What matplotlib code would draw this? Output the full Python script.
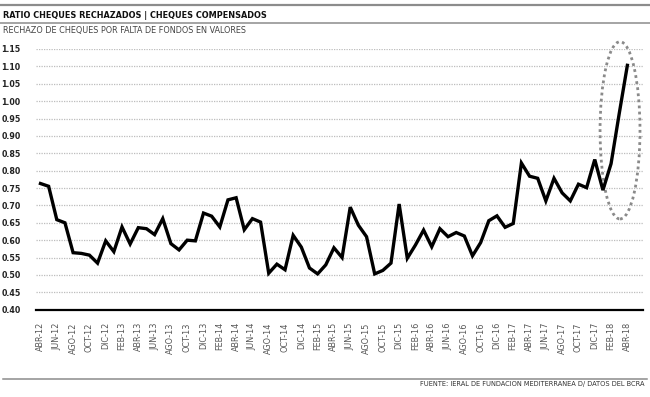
import matplotlib
matplotlib.use("Agg")
import matplotlib.pyplot as plt
from matplotlib import font_manager
from matplotlib.lines import Line2D
from matplotlib.patches import Ellipse

# look for a narrow sans face with a bold cut, the original uses a condensed one
narrow = {}
for f in font_manager.fontManager.ttflist:
    if ('Narrow' in f.name or 'Condensed' in f.name or
            f.stretch in ('condensed', 'semi-condensed', 'extra-condensed', 'ultra-condensed')):
        w = f.weight if isinstance(f.weight, int) else font_manager.weight_dict.get(f.weight, 400)
        narrow.setdefault((f.name, f.stretch), set()).add(w)

narrow_family, narrow_stretch = 'Liberation Sans', 'normal'
best = -1
for (name, stretch), weights in narrow.items():
    score = (2 if max(weights) >= 700 else 0) + (1 if 400 in weights else 0)
    if score > best:
        best = score
        narrow_family, narrow_stretch = name, stretch

plt.rcParams['font.family'] = [narrow_family, 'Liberation Sans', 'DejaVu Sans']
plt.rcParams['font.stretch'] = narrow_stretch

# Monthly ratio, ABR-12 .. ABR-18
months = ["ENE", "FEB", "MAR", "ABR", "MAY", "JUN",
          "JUL", "AGO", "SEP", "OCT", "NOV", "DIC"]
ratio = [0.763, 0.755, 0.659, 0.650, 0.564, 0.562, 0.557, 0.534, 0.598,
         0.567, 0.638, 0.589, 0.636, 0.633, 0.616, 0.662, 0.590, 0.572, 0.600, 0.598, 0.678,
         0.669, 0.638, 0.716, 0.722, 0.630, 0.662, 0.652, 0.505, 0.531, 0.515, 0.614, 0.580,
         0.520, 0.503, 0.529, 0.578, 0.550, 0.695, 0.643, 0.610, 0.503, 0.513, 0.534, 0.704,
         0.548, 0.586, 0.629, 0.581, 0.633, 0.610, 0.622, 0.612, 0.555, 0.593, 0.656, 0.670,
         0.637, 0.648, 0.822, 0.784, 0.778, 0.713, 0.778, 0.736, 0.713, 0.761, 0.751, 0.832,
         0.744, 0.820, 0.964, 1.103]

labels = []
for k in range(len(ratio)):
    m = (3 + k) % 12
    yr = 12 + (3 + k) // 12
    labels.append(f"{months[m]}-{yr}")

x = list(range(len(ratio)))
yticks = [0.40 + 0.05 * j for j in range(16)]

fig = plt.figure(figsize=(6.5, 3.97), dpi=100)
ax = fig.add_axes([0.0554, 0.2199, 0.9336, 0.6567])

ax.plot(x, ratio, color='black', lw=2.4, solid_joinstyle='miter', zorder=3)

# highlight of the last months
ell = Ellipse((71.1, 0.916), 4.9, 0.51, fill=False, edgecolor='#8a8a8a',
              lw=2.0, linestyle=(0, (1, 1.2)), zorder=2, clip_on=False)
ax.add_patch(ell)

ax.set_xlim(-0.55, 73.9)
ax.set_ylim(0.40, 1.15)
ax.set_yticks(yticks)
ax.set_yticklabels([f"{v:.2f}" for v in yticks], fontsize=6.3,
                   fontweight='bold', color='#222')
ax.set_xticks(x[::2])
ax.set_xticklabels(labels[::2], rotation=90, fontsize=6.5, color='#555')
ax.tick_params(axis='y', length=0, pad=11)
ax.tick_params(axis='x', length=0, pad=9)

for v in yticks[1:]:
    ax.axhline(v, color='#bdbdbd', lw=0.9, linestyle=(0, (1, 1)), zorder=1)

for s in ['top', 'right', 'left']:
    ax.spines[s].set_visible(False)
ax.spines['bottom'].set_linewidth(1.6)
ax.spines['bottom'].set_color('black')

# header and footer
fig.add_artist(Line2D([0, 1], [1 - 4.5 / 397] * 2, transform=fig.transFigure,
                      color='#8c8c8c', lw=1.6))
fig.add_artist(Line2D([0, 1], [1 - 23 / 397] * 2, transform=fig.transFigure,
                      color='#8c8c8c', lw=1.1))
fig.add_artist(Line2D([0.005, 0.995], [1 - 378.5 / 397] * 2, transform=fig.transFigure,
                      color='#8c8c8c', lw=1.1))

fig.text(3 / 650, 1 - 15 / 397, "RATIO CHEQUES RECHAZADOS | CHEQUES COMPENSADOS",
         fontsize=6.5, fontweight='bold', color='#111', va='center', ha='left')
fig.text(3 / 650, 1 - 31 / 397, "RECHAZO DE CHEQUES POR FALTA DE FONDOS EN VALORES",
         fontsize=6.5, color='#444', va='center', ha='left')
fig.text(645 / 650, 1 - 384 / 397,
         "FUENTE: IERAL DE FUNDACION MEDITERRANEA D/ DATOS DEL BCRA",
         fontsize=5.3, color='#333', va='center', ha='right')

fig.savefig("out.png", dpi=100)
